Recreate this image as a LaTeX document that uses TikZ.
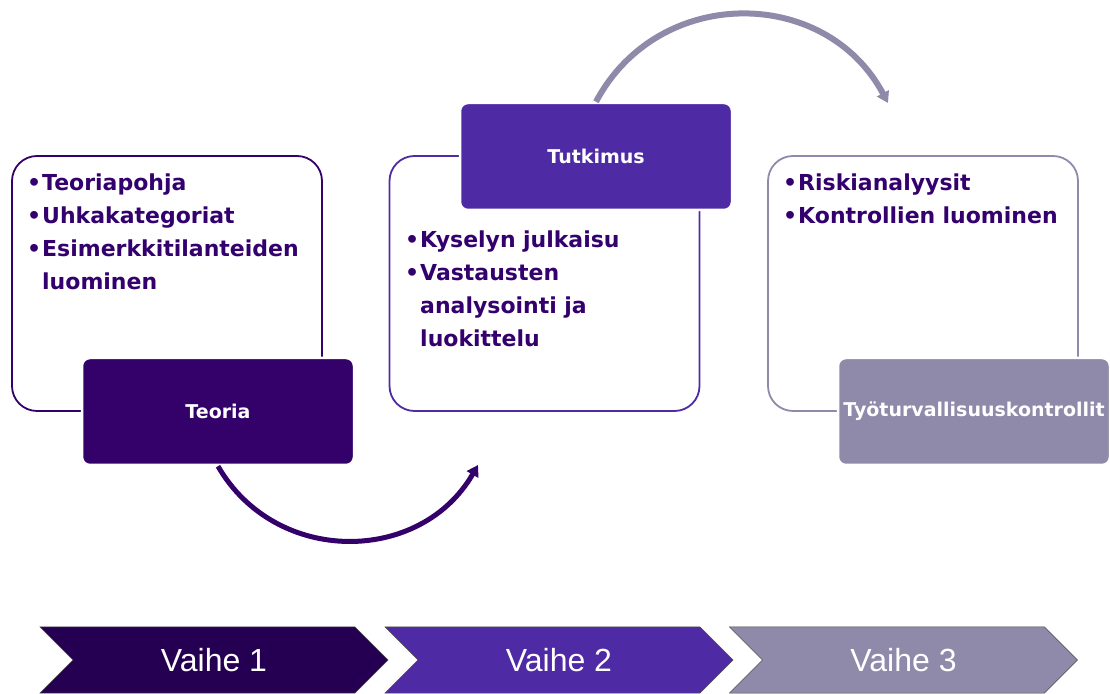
\documentclass[tikz,border=0pt]{standalone}
\usepackage{fontspec}
\setmainfont{DejaVu Sans}
\newfontfamily\vaihefont{Liberation Sans}
\usetikzlibrary{arrows.meta,shapes.symbols}

\definecolor{teoriacol}{HTML}{34006A}
\definecolor{tutkcol}{HTML}{4F2AA5}
\definecolor{kontrcol}{HTML}{8F89AA}
\definecolor{vaiheone}{HTML}{250052}
\definecolor{textcol}{HTML}{33006E}

% bullet line with hanging indent
\newcommand{\bul}[1]{\par\noindent\makebox[15pt][l]{\textbullet}\parbox[t]{270pt}{\raggedright #1}\par}

\tikzset{
  outerbox/.style={draw, rounded corners=25pt, line width=1.8pt, minimum width=310pt, minimum height=255pt},
  labelbox/.style={draw=white, line width=2.5pt, rounded corners=8pt, minimum width=272pt, minimum height=107pt, text=white, font=\fontsize{19}{23}\selectfont\bfseries},
  itemtext/.style={anchor=north west, inner sep=0pt, text width=290pt, text=textcol, align=left, font=\fontsize{22}{33}\selectfont\bfseries},
  vaihe/.style={shape=signal, signal from=west, signal to=east, signal pointer angle=90, minimum width=348pt, minimum height=66pt, inner sep=0pt, draw=black!70, line width=0.5pt, text=white, font=\vaihefont\fontsize{32}{36}\selectfont},
  phasearrow/.style={line width=5pt, -{Triangle[length=11pt,width=13pt]}}
}

\begin{document}
\begin{tikzpicture}[x=1pt, y=1pt]
        \useasboundingbox (0,0) rectangle (1110,693);

        % content boxes
        \node[outerbox, draw=teoriacol] (teoriabox) at (167, 409.5) {};
        \node[outerbox, draw=tutkcol] (tutkbox) at (544.5, 409.5) {};
        \node[outerbox, draw=kontrcol] (kontrbox) at (923, 409.5) {};

        \node[itemtext] (teoriaitems) at (27, 536) {\bul{Teoriapohja}\bul{Uhkakategoriat}\bul{Esimerkkitilanteiden luominen}};
        \node[itemtext] (tutkitems) at (405, 479) {\bul{Kyselyn julkaisu}\bul{Vastausten\\analysointi ja\\luokittelu}};
        \node[itemtext] (kontritems) at (783, 536) {\bul{Riskianalyysit}\bul{Kontrollien luominen}};

        % label boxes
        \node[labelbox, fill=teoriacol] (teoria) at (218, 281.5) {Teoria};
        \node[labelbox, fill=tutkcol] (tutkimus) at (596, 536.5) {Tutkimus};
        \node[labelbox, fill=kontrcol] (kontrollit) at (974, 281.5) {Työturvallisuuskontrollit};

        % curved arrows
        \coordinate (tip1) at (478, 228);
        \coordinate (tip2) at (888, 590);
        \draw[phasearrow, teoriacol] (teoria.south) to[out=-60, in=-120, looseness=1.13] (tip1);
        \draw[phasearrow, kontrcol, line width=6pt] (tutkimus.north) to[out=62, in=118, looseness=1.16] (tip2);

        % phases
        \node[vaihe, fill=vaiheone] (vaihe1) at (214, 33) {Vaihe 1};
        \node[vaihe, fill=tutkcol] (vaihe2) at (559, 33) {Vaihe 2};
        \node[vaihe, fill=kontrcol] (vaihe3) at (903.5, 33) {Vaihe 3};
    \end{tikzpicture}
\end{document}
